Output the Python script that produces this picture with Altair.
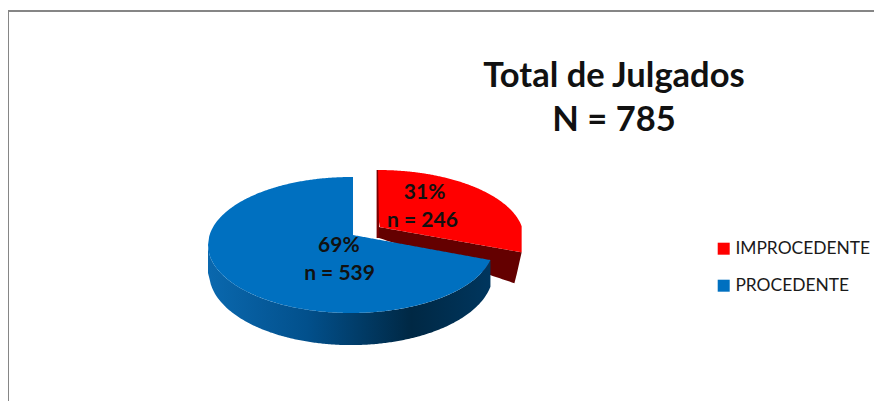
import altair as alt
import numpy as np
import pandas as pd

# Values
categories = ["IMPROCEDENTE", "PROCEDENTE"]
counts = [246, 539]
percent_labels = ["31%", "69%"]
count_labels = ["n = 246", "n = 539"]
colors = ["#ff0000", "#0070c0"]
title_lines = ["Total de Julgados", "N = 785"]

share = np.array(counts) / sum(counts)

# Tilted-pie geometry: one unit on x is the horizontal radius and one unit on y the vertical radius
W, H = 866, 393
CX, CY, RX, RY = 343.0, 237.0, 143.0, 68.0   # centre and radii inside the plot area
SKEW = 10.0                                   # perspective correction of the seam, degrees
end_deg = 90 + share[1] * 360 + SKEW
end_x, end_y = np.cos(np.radians(end_deg)), np.sin(np.radians(end_deg))

# Blue (main) slice
apex = (0.014, 0.147)
blue_x = np.concatenate([np.linspace(-1, apex[0], 120), np.linspace(apex[0] + 1e-4, end_x, 120)])
blue_low = -np.sqrt(np.clip(1 - blue_x ** 2, 0, 1))
blue_up = np.where(
    blue_x <= apex[0],
    np.sqrt(np.clip(1 - blue_x ** 2, 0, 1)),
    apex[1] + (end_y - apex[1]) * (blue_x - apex[0]) / (end_x - apex[0]),
)
blue_top = pd.DataFrame({"x": blue_x, "y": blue_up, "y2": blue_low, "cat": categories[1]})

# Blue rim: lower outline of a slightly lower, slightly narrower ellipse
rim_x = np.linspace(-1, end_x, 200)
rim_up = -np.sqrt(np.clip(1 - rim_x ** 2, 0, 1))
rim_low = -0.412 - 1.06 * np.sqrt(np.clip(1 - (rim_x / 0.993) ** 2, 0, 1))
blue_rim = pd.DataFrame({"x": rim_x, "y": rim_up, "y2": np.minimum(rim_up, rim_low)})

# Red (exploded) slice
dx, dy = 0.189, 0.103
r_apex = (0.196, 0.265)
r_left = dx
r_end_x, r_end_y = dx + end_x * 1.03, dy + end_y * 0.95
red_x = np.linspace(r_left, r_end_x, 160)
red_up = dy + np.sqrt(np.clip(1 - ((red_x - dx) / 1.02) ** 2, 0, 1))
red_low = np.where(
    red_x < r_apex[0],
    dy + 1 + (r_apex[1] - dy - 1) * (red_x - r_left) / (r_apex[0] - r_left),
    r_apex[1] + (r_end_y - r_apex[1]) * (red_x - r_apex[0]) / (r_end_x - r_apex[0]),
)
red_top = pd.DataFrame({"x": red_x, "y": red_up, "y2": red_low, "cat": categories[0]})

# Red rim: the cut face that shows under the slice
face_x = np.linspace(r_apex[0], r_end_x, 60)
face_up = r_apex[1] + (r_end_y - r_apex[1]) * (face_x - r_apex[0]) / (r_end_x - r_apex[0])
face_corner_x, face_corner_y = r_end_x - 0.049, r_end_y - 0.455
face_low = np.where(
    face_x <= face_corner_x,
    0.103 + (face_corner_y - 0.103) * (face_x - r_apex[0]) / (face_corner_x - r_apex[0]),
    face_corner_y + (r_end_y - face_corner_y) * (face_x - face_corner_x) / (r_end_x - face_corner_x),
)
red_face = pd.DataFrame({"x": face_x, "y": face_up, "y2": face_low})
red_strip = pd.DataFrame({"x": [r_left - 0.01, r_apex[0]], "y": [dy + 1, dy + 1], "y2": [0.103, 0.103]})

labels = pd.DataFrame({
    "x": [0.515, 0.50, -0.085, -0.08],
    "y": [0.765, 0.355, -0.015, -0.425],
    "t": [percent_labels[0], count_labels[0], percent_labels[1], count_labels[1]],
})

x_scale = alt.Scale(domain=[-CX / RX, (W - CX) / RX], nice=False, zero=False)
y_scale = alt.Scale(domain=[(CY - H) / RY, CY / RY], nice=False, zero=False)
X = alt.X("x:Q", scale=x_scale, axis=None)
Y = alt.Y("y:Q", scale=y_scale, axis=None, stack=None)
Y2 = alt.Y2("y2:Q")
color = alt.Color(
    "cat:N",
    scale=alt.Scale(domain=categories, range=colors),
    legend=alt.Legend(
        title=None, orient="none", legendX=707, legendY=232,
        symbolType="square", symbolSize=144, symbolStrokeWidth=0,
        labelFont="Lato", labelFontSize=17.4, labelColor="#1a1a1a",
        rowPadding=18, labelOffset=3,
    ),
)


def flat(df, fill):
    return alt.Chart(df).mark_area(fill=fill, interpolate="linear").encode(x=X, y=Y, y2=Y2)


rim_fill = alt.Gradient(
    gradient="linear", x1=0, x2=1, y1=0, y2=0,
    stops=[
        alt.GradientStop(color="#0a68ae", offset=0),
        alt.GradientStop(color="#02508c", offset=0.35),
        alt.GradientStop(color="#002844", offset=0.72),
        alt.GradientStop(color="#00365e", offset=1),
    ],
)

frame_top = alt.Chart(pd.DataFrame({"a": [0]})).mark_rule(color="#868686", strokeWidth=2).encode(
    x=alt.value(0), x2=alt.value(W), y=alt.value(3)
)
frame_left = alt.Chart(pd.DataFrame({"a": [0]})).mark_rule(color="#868686", strokeWidth=2).encode(
    x=alt.value(0), y=alt.value(2), y2=alt.value(H)
)

layers = [
    frame_top,
    frame_left,
    flat(red_strip, "#7a0000"),
    flat(red_face, "#640000"),
    alt.Chart(red_top).mark_area(interpolate="linear").encode(x=X, y=Y, y2=Y2, color=color),
    flat(blue_rim, rim_fill),
    alt.Chart(blue_top).mark_area(interpolate="linear").encode(x=X, y=Y, y2=Y2, color=color),
    alt.Chart(labels).mark_text(font="Lato", fontSize=21, fontWeight="bold", color="#111111").encode(
        x=X, y=Y, text="t:N"
    ),
]

chart = (
    alt.layer(*layers)
    .properties(
        width=W, height=H, padding=0,
        autosize=alt.AutoSizeParams(type="none"),
        title=alt.TitleParams(
            text=title_lines, font="Lato", fontSize=34.5, fontWeight="bold", color="#111111",
            anchor="start", align="center", baseline="alphabetic", lineHeight=44,
            dx=607, dy=157, offset=0,
        ),
    )
    .configure_view(stroke=None)
)

chart.save("out.html", embed_options={"renderer": "svg", "actions": False})
